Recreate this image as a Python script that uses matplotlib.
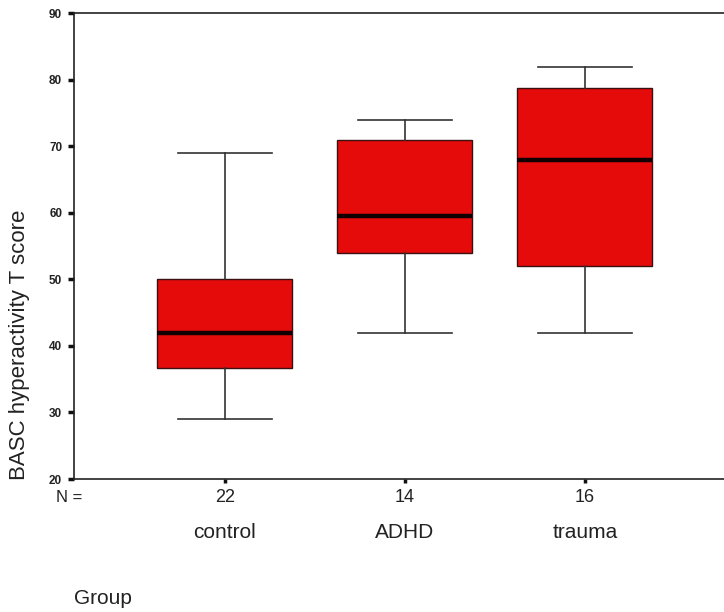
import matplotlib
matplotlib.use('Agg')
import matplotlib.pyplot as plt

plt.rcParams['font.family'] = ['Liberation Sans', 'DejaVu Sans']

# group summaries
groups = ['control', 'ADHD', 'trauma']
counts = [22, 14, 16]
whislo = [29, 42, 42]
q1 = [36.75, 54, 52]
med = [42, 59.5, 68]
q3 = [50, 71, 78.75]
whishi = [69, 74, 82]

yticks = [20, 30, 40, 50, 60, 70, 80, 90]

stats = []
for i in range(len(groups)):
    stats.append({'label': groups[i], 'whislo': whislo[i], 'q1': q1[i], 'med': med[i],
                  'q3': q3[i], 'whishi': whishi[i], 'fliers': []})

fig = plt.figure(figsize=(7.24, 6.12), dpi=100)
ax = fig.add_axes([74 / 724, 1 - 479 / 612, 1 - 74 / 724, (479 - 13.3) / 612])

positions = [1, 2, 3]
ax.bxp(stats, positions=positions, widths=0.75, capwidths=0.52, patch_artist=True,
       showfliers=False,
       boxprops=dict(facecolor='#e50b0b', edgecolor='#3a1010', linewidth=1.0),
       medianprops=dict(color='#120000', linewidth=3.2, solid_capstyle='butt'),
       whiskerprops=dict(color='#333333', linewidth=1.2),
       capprops=dict(color='#333333', linewidth=1.2))

ax.set_xlim(0.161, 3.774)
ax.set_ylim(20, 90)
ax.set_yticks(yticks)
ax.set_yticklabels([str(v) for v in yticks], fontsize=8.5, fontweight='bold', color='#222222')
ax.set_xticks(positions)
ax.set_xticklabels([str(c) for c in counts], fontsize=13, color='#222222')

ax.spines['right'].set_visible(False)
for s in ['left', 'top', 'bottom']:
    ax.spines[s].set_linewidth(1.2)
    ax.spines[s].set_color('#222222')

ax.tick_params(axis='y', direction='out', length=4.5, width=2.5, pad=4, color='#111111')
ax.tick_params(axis='x', direction='out', length=3, width=2.5, pad=4, color='#111111')

# category names under the counts
for p, g in zip(positions, groups):
    ax.annotate(g, xy=(p, 0), xycoords=('data', 'axes fraction'),
                xytext=(0, -38.5), textcoords='offset points',
                ha='center', va='center', fontsize=15, color='#222222')

fig.text(69 / 724, 1 - 498 / 612, 'N =', ha='center', va='center', fontsize=12, color='#222222')
fig.text(74 / 724, 1 - 598 / 612, 'Group', ha='left', va='center', fontsize=15, color='#222222')
fig.text(20 / 724, 1 - 480 / 612, 'BASC hyperactivity T score', rotation=90,
         ha='center', va='bottom', fontsize=16, color='#222222')

fig.savefig('out.png', dpi=100)
